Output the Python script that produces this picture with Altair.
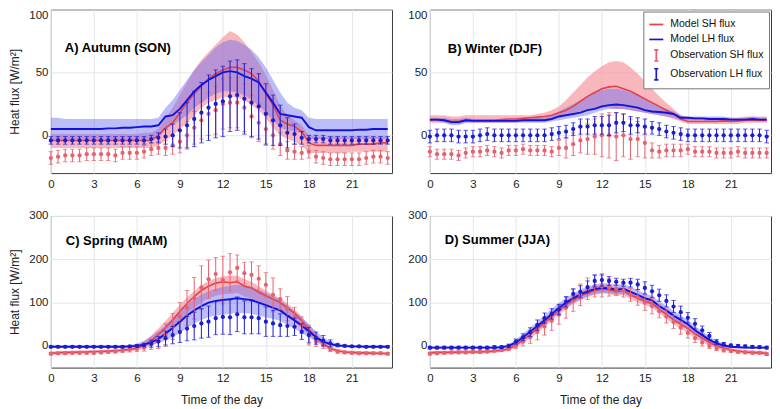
import altair as alt
import pandas as pd

FONT = "Liberation Sans"
RED = "#e3404d"
BLUE = "#1212dc"
OBS_RED = "#e8606e"
OBS_BLUE = "#1c1cd2"
PINK = "#f59aa4"
LAV = "#6a6af0"
GRID = "#e3e6ea"

TIME = [0, 0.5, 1, 1.5, 2, 2.5, 3, 3.5, 4, 4.5, 5, 5.5, 6, 6.5, 7, 7.5,
        8, 8.5, 9, 9.5, 10, 10.5, 11, 11.5, 12, 12.5, 13, 13.5, 14, 14.5, 15, 15.5,
        16, 16.5, 17, 17.5, 18, 18.5, 19, 19.5, 20, 20.5, 21, 21.5, 22, 22.5, 23, 23.5]

# ---------------- A) Autumn (SON)
A_SH = [-4,-4,-4,-4,-4,-4,-4,-4, -4,-4,-4,-4, -4,-4,-4,0, 6,10,18,26, 33,39,45,49, 52,54,54,52, 49,43,33,24, 12,9,7,3, -6,-8,-8,-8, -8,-8,-8,-7, -7,-7,-6,-6]
A_SH_HI = [1,1,1,1,1,1,1,1, 1,1,1,1, 1,2,2,5, 14,22,32,42, 52,60,66,72, 78,83,80,74, 66,58,48,36, 24,16,12,8, 0,-1,-1,-1, -1,-1,-1,-1, -1,-1,-1,-1]
A_SH_LO = [-10,-10,-10,-10,-10,-10,-10,-10, -10,-10,-10,-10, -10,-10,-10,-8, -4,0,5,10, 16,22,26,28, 30,31,30,28, 24,20,14,6, 0,-3,-5,-8, -14,-14,-14,-14, -14,-14,-13,-13, -13,-13,-13,-13]
A_LH = [5,5,5,5,5,5,5,5, 5.5,5.5,6,6, 6.5,7,7,8, 15,16,21,28, 35,40,44,47, 50,51,50,47, 45,42,34,26, 17,16,15,14, 6.5,4,4,4, 4,4,4,4.5, 4.5,5,5,5]
A_LH_HI = [14,14,13,13,13,13,13,13, 13,13,13,13, 13,13,13,14, 22,28,36,44, 52,58,64,70, 74,76,75,72, 68,62,54,44, 34,26,22,20, 14,13,13,13, 13,13,13,13, 13,13,13,13]
A_LH_LO = [-3,-3,-3,-3,-3,-3,-3,-3, -3,-3,-3,-3, -3,-3,-3,-2, 5,8,12,16, 22,26,30,33, 35,35,34,32, 28,24,18,12, 6,4,3,2, -3,-3,-3,-3, -3,-3,-3,-3, -3,-3,-3,-3]
A_OSH = [-18,-17,-16,-16,-16,-15,-15,-15, -15,-16,-14,-14, -14,-13,-11,-10, -10,-8,-5,0, 6,12,17,20, 25,26,26,22, 15,10,5,0, -7,-12,-13,-14, -13,-17,-18,-19, -19,-19,-19,-19, -18,-17,-17,-18]
A_OSH_ERR = [5,5,5,5,5,5,5,5, 5,5,5,5, 5,5,5,5, 6,7,9,11, 13,15,17,19, 20,20,20,19, 17,15,13,11, 9,7,6,5, 5,5,5,5, 5,5,5,5, 5,5,5,5]
A_OLH = [-4,-4,-4,-4,-4,-4,-4,-4, -4,-4,-4,-4, -4,-4,-3,-2, -1,0,4,8, 13,18,22,25, 27,31,32,29, 26,23,17,12, 8,2,1,-2, -3,-3,-3,-4, -4,-4,-4,-4, -4,-4,-4,-4]
A_OLH_ERR = [3,3,3,3,3,3,3,3, 3,3,3,3, 3,3,3,4, 6,9,14,18, 22,24,26,27, 28,28,28,28, 27,26,24,20, 16,12,8,5, 3,3,3,3, 3,3,3,3, 3,3,3,3]

# ---------------- B) Winter (DJF)
B_SH = [12,12.5,12,11,11,12,12,12, 12,12,12.5,13, 13,13.5,14,14.5, 15,16,18,20, 23,27,31,34, 37,38.5,39,37, 35,32,29,26, 23,20,17,13, 11,11,11,11, 11,11.5,11,11.5, 12,12,12,12]
B_SH_HI = [16,16,16,15,15,16,16,16, 16,16,16,16, 16,16,16,17, 18,20,23,28, 34,40,46,51, 55,58,59,58, 54,49,43,37, 31,26,21,16, 14,14,14,14, 14,14,14,14, 15,15,15,15]
B_SH_LO = [10,10,10,9,9,10,10,10, 10,10,10,10, 10,11,11,11, 12,13,15,16, 18,19,20,21, 22,22,21,21, 20,19,18,17, 16,15,13,11, 9,9,9,9, 9,9,9,9, 10,10,10,10]
B_LH = [12.5,12.5,12,10.5,10.5,12,11.5,11.5, 11.5,11.5,11.5,11.5, 11.5,12,12,12, 12,13,15,16, 17,18,20,21, 23,24,24.5,24, 23,22,20,19, 18.5,18,17,14, 14,13.5,13.5,13, 13,13,12.5,12.5, 12.5,13,12.5,12.5]
B_LH_HI = [14,14,14,13,13,14,13,13, 13,13,13,13, 13,14,14,14, 14,16,19,22, 25,28,31,34, 36,37,37,36, 34,32,29,26, 23,21,19,16, 15,15,15,15, 15,15,14,14, 14,15,14,14]
B_LH_LO = [11,11,10,8,8,10,10,10, 10,10,10,10, 10,10,10,10, 10,11,12,13, 14,15,16,18, 20,21,21,21, 20,19,18,17, 16,15,14,12, 12,12,12,11, 11,11,11,11, 11,11,11,11]
B_OSH = [-13,-15,-15,-15,-16,-14,-13,-13, -12,-13,-14,-12, -12,-11,-12,-12, -12,-13,-10,-10, -7,-4,-3,-1, 0,0,-1,0, -3,-3,-6,-12, -13,-12,-12,-12, -11,-13,-13,-13, -14,-14,-14,-13, -14,-14,-14,-14]
B_OSH_ERR = [4,4,4,4,4,4,4,4, 4,4,4,4, 4,4,4,4, 4,4,6,8, 9,10,12,14, 17,18,19,17, 16,14,12,6, 5,5,5,5, 4,4,4,4, 4,4,4,4, 4,4,4,4]
B_OLH = [-1,0,0,0,-1,-1,-1,0, 1,0,0,0, 0,0,0,0, 0,1,2,3, 5,7,7,8, 8,8,10,10, 8,8,7,6, 5,3,2,1, 0,0,0,0, 0,0,0,0, 0,0,0,-1]
B_OLH_ERR = [5,5,5,5,5,5,5,5, 5,5,5,5, 5,5,5,5, 5,5,5,5, 5,6,6,7, 7,8,8,7, 7,6,6,5, 5,5,5,5, 5,5,5,5, 5,5,5,5, 5,5,5,5]

# ---------------- C) Spring (MAM)
C_SH = [-17,-16,-15,-15,-14,-14,-13,-13, -12,-11,-10,-8, -6,2,12,26, 42,60,80,98, 114,128,138,145, 148,146,148,138, 134,124,116,108, 100,88,75,58, 38,20,5,-6, -11,-14,-15,-16, -16,-17,-17,-18]
C_SH_HI = [-13,-12,-11,-11,-10,-10,-9,-9, -8,-7,-6,-4, 0,10,24,40, 58,76,95,112, 127,140,150,156, 161,162,162,154, 148,138,128,118, 110,98,84,68, 48,28,12,0, -7,-10,-11,-12, -12,-13,-13,-14]
C_SH_LO = [-21,-20,-19,-19,-18,-18,-17,-17, -16,-15,-14,-12, -10,-6,0,10, 24,40,58,74, 88,100,110,116, 120,120,122,114, 110,102,94,86, 78,68,56,42, 24,10,-2,-10, -15,-18,-19,-20, -20,-21,-21,-22]
C_LH = [-2,-2,-2,-2,-2,-2,-2,-2, -2,-2,-2,-1, 0,3,8,16, 28,42,56,70, 82,92,100,104, 106,108,110,108, 106,100,94,88, 82,70,59,47, 34,20,10,4, 1,0,-1,-1, -2,-2,-2,-2]
C_LH_HI = [1,1,1,1,1,1,1,1, 1,1,1,2, 5,12,22,34, 48,64,80,95, 108,118,126,132, 136,139,141,139, 136,130,122,115, 106,94,80,66, 50,34,20,10, 4,2,1,1, 1,1,1,1]
C_LH_LO = [-4,-4,-4,-4,-4,-4,-4,-4, -4,-4,-4,-3, -3,-1,2,6, 12,20,30,42, 52,60,66,70, 72,74,76,76, 74,70,66,62, 58,48,40,30, 20,10,3,0, -2,-3,-4,-4, -4,-4,-4,-4]
C_OSH = [-18,-17,-17,-16,-16,-16,-16,-15, -14,-13,-11,-9, -7,-4,4,12, 25,45,68,88, 110,135,154,166, 152,170,180,168, 164,155,141,118, 108,86,67,48, 25,10,2,-8, -13,-15,-16,-17, -17,-17,-17,-18]
C_OSH_ERR = [3,3,3,3,3,3,3,3, 3,3,4,5, 6,8,12,18, 26,30,32,40, 48,50,44,38, 55,43,30,25, 30,30,28,39, 24,28,22,19, 23,11,8,5, 4,3,3,3, 3,3,3,3]
C_OLH = [-2,-2,-2,-2,-2,-2,-2,-2, -2,-2,-2,-1, 0,2,5,10, 18,25,32,40, 46,52,56,64, 67,66,73,66, 66,64,56,52, 48,46,44,33, 25,18,12,6, 2,0,-1,-1, -2,-2,-2,-2]
C_OLH_ERR = [2,2,2,2,2,2,2,2, 2,2,2,2, 3,4,8,12, 16,20,24,28, 32,34,36,38, 40,40,40,38, 38,36,34,30, 26,24,20,18, 18,14,12,8, 4,2,2,2, 2,2,2,2]

# ---------------- D) Summer (JJA)
D_SH = [-16,-15,-15,-15,-14,-14,-14,-14, -13,-12,-10,-7, 2,14,26,40, 54,68,82,95, 106,115,122,128, 131,130,125,128, 118,110,104,98, 85,72,60,50, 40,28,18,8, 0,-5,-9,-12, -14,-15,-16,-17]
D_SH_HI = [-12,-11,-11,-11,-10,-10,-10,-10, -9,-8,-6,-2, 8,22,35,50, 64,78,92,105, 116,125,132,138, 141,140,135,138, 128,120,114,108, 95,82,70,60, 50,38,27,16, 6,0,-4,-7, -9,-10,-11,-12]
D_SH_LO = [-20,-19,-19,-19,-18,-18,-18,-18, -17,-16,-14,-12, -4,6,17,30, 44,58,72,85, 96,105,112,118, 121,120,115,118, 108,100,94,88, 75,62,50,40, 30,18,9,0, -6,-10,-14,-16, -18,-19,-20,-21]
D_LH = [-4,-4,-4,-4,-4,-4,-4,-4, -4,-4,-3,0, 8,20,33,46, 59,74,88,100, 110,119,126,131, 134,133,130,132, 125,118,110,105, 92,82,70,60, 50,36,25,14, 6,1,-2,-3, -4,-4,-4,-4]
D_LH_HI = [-2,-2,-2,-2,-2,-2,-2,-2, -2,-2,-1,3, 14,28,42,56, 70,85,99,111, 121,130,137,142, 145,144,141,143, 136,129,121,116, 103,93,81,71, 60,46,34,22, 12,5,1,-1, -2,-2,-2,-2]
D_LH_LO = [-6,-6,-6,-6,-6,-6,-6,-6, -6,-6,-5,-3, 2,12,24,36, 48,63,77,89, 99,108,115,120, 123,122,119,121, 114,107,99,94, 81,71,59,49, 40,26,16,6, 0,-3,-5,-5, -6,-6,-6,-6]
D_OSH = [-18,-17,-16,-15,-15,-15,-14,-14, -13,-11,-9,-6, 0,10,20,32, 45,58,72,88, 105,118,132,138, 138,135,132,128, 118,112,100,92, 80,68,55,42, 30,18,8,0, -6,-10,-12,-14, -15,-16,-16,-19]
D_OSH_ERR = [3,3,3,3,3,3,3,3, 3,3,4,5, 6,10,14,18, 20,22,22,24, 25,25,25,25, 25,20,15,15, 15,18,18,18, 15,15,15,15, 12,10,8,6, 5,4,3,3, 3,3,3,3]
D_OLH = [-4,-4,-4,-4,-4,-4,-4,-4, -4,-3,-3,0, 10,20,32,48, 64,74,84,102, 120,125,136,150, 152,150,148,146, 146,142,134,126, 117,104,91,78, 65,51,36,23, 9,4,1,0, -1,-2,-3,-4]
D_OLH_ERR = [3,3,3,3,3,3,3,3, 3,3,3,4, 6,8,10,12, 12,12,12,12, 12,14,14,14, 14,10,8,8, 10,12,14,14, 14,14,14,14, 12,12,10,8, 6,4,3,3, 3,3,3,3]

LEGEND_LABELS = ["Model SH flux", "Model LH flux", "Observation SH flux", "Observation LH flux"]
ERRBAR_PATH = "M0,-0.8L0,0.8M-0.3,-0.8L0.3,-0.8M-0.3,0.8L0.3,0.8"

W = 342
H_TOP = 164
H_BOT = 152


def panel(title, d, ydom, yticks, height, ytitle, xtitle, flush, toff, tdx, legend=False):
    df = pd.DataFrame({
        "t": TIME, "sh": d[0], "sh_hi": d[1], "sh_lo": d[2],
        "lh": d[3], "lh_hi": d[4], "lh_lo": d[5],
        "osh": d[6], "osh_err": d[7], "olh": d[8], "olh_err": d[9],
    })
    xaxis = alt.Axis(values=list(range(0, 22, 3)), grid=True, gridColor=GRID, domain=False,
                     ticks=False, labelPadding=5, labelFlush=False, labelFont=FONT,
                     labelFontSize=11.5, labelColor="#222", titleFont=FONT, titleFontSize=12,
                     titleFontWeight="normal", titleColor="#222", titlePadding=11)
    yaxis = alt.Axis(values=yticks, grid=True, gridColor=GRID, domain=False, ticks=False,
                     labelPadding=3, labelFlush=flush, labelFont=FONT, labelFontSize=11.5,
                     labelColor="#222", titleFont=FONT, titleFontSize=12, titleFontWeight="normal",
                     titleColor="#222", titlePadding=7)
    xs = alt.Scale(domain=[0, 23.8], nice=False, zero=False)
    ys = alt.Scale(domain=ydom, nice=False, zero=False)

    def X():
        return alt.X("t:Q", scale=xs, axis=xaxis, title=xtitle)

    def Y(f):
        return alt.Y(f, type="quantitative", scale=ys, axis=yaxis, title=ytitle)

    base = alt.Chart(df)
    sh_band = base.mark_area(color=PINK, opacity=0.72).encode(x=X(), y=Y("sh_lo"), y2="sh_hi:Q")
    lh_band = base.mark_area(color=LAV, opacity=0.45).encode(x=X(), y=Y("lh_lo"), y2="lh_hi:Q")
    sh_line = base.mark_line(color=RED, strokeWidth=1.6).encode(x=X(), y=Y("sh"))
    lh_line = base.mark_line(color=BLUE, strokeWidth=1.9).encode(x=X(), y=Y("lh"))

    def obs(field, err, color):
        b = base.transform_calculate(lo=f"datum.{field} - datum.{err}",
                                     hi=f"datum.{field} + datum.{err}")
        rule = b.mark_rule(color=color, strokeWidth=1).encode(x=X(), y=Y("lo"), y2="hi:Q")
        cap1 = b.mark_tick(color=color, orient="horizontal", size=4.5, thickness=1).encode(x=X(), y=Y("lo"))
        cap2 = b.mark_tick(color=color, orient="horizontal", size=4.5, thickness=1).encode(x=X(), y=Y("hi"))
        pts = base.mark_circle(color=color, size=18, opacity=1).encode(x=X(), y=Y(field))
        return [rule, cap1, cap2, pts]

    layers = [sh_band, lh_band, sh_line, lh_line] + obs("osh", "osh_err", OBS_RED) + obs("olh", "olh_err", OBS_BLUE)

    if legend:
        leg = alt.Legend(title=None, orient="top-right", offset=2, fillColor="white",
                         strokeColor="#777", padding=5, labelFont=FONT, labelFontSize=10.5,
                         labelColor="#111", symbolSize=196, symbolStrokeWidth=1.7,
                         rowPadding=1, labelOffset=6, symbolOpacity=1)
        ldf = pd.DataFrame({"series": pd.Series([], dtype=str)})
        lay = alt.Chart(ldf).mark_point(filled=False, strokeWidth=1.7).encode(
            color=alt.Color("series:N", scale=alt.Scale(domain=LEGEND_LABELS,
                            range=[RED, BLUE, OBS_RED, OBS_BLUE]), legend=leg),
            shape=alt.Shape("series:N", scale=alt.Scale(domain=LEGEND_LABELS,
                            range=["stroke", "stroke", ERRBAR_PATH, ERRBAR_PATH]), legend=leg),
        )
        layers.append(lay)

    return alt.layer(*layers).properties(
        width=W, height=height,
        title=alt.TitleParams(title, anchor="start", frame="group", orient="top",
                              offset=toff, dx=tdx, baseline="alphabetic",
                              font=FONT, fontSize=13, fontWeight="bold", color="black"),
    )


YT = "Heat flux [W/m²]"
pA = panel("A) Autumn (SON)",
           [A_SH, A_SH_HI, A_SH_LO, A_LH, A_LH_HI, A_LH_LO, A_OSH, A_OSH_ERR, A_OLH, A_OLH_ERR],
           [-30, 100], [0, 50, 100], H_TOP, YT, None, True, -56, 14)
pB = panel("B) Winter (DJF)",
           [B_SH, B_SH_HI, B_SH_LO, B_LH, B_LH_HI, B_LH_LO, B_OSH, B_OSH_ERR, B_OLH, B_OLH_ERR],
           [-30, 100], [0, 50, 100], H_TOP, None, None, True, -57, 18, legend=True)
pC = panel("C) Spring (MAM)",
           [C_SH, C_SH_HI, C_SH_LO, C_LH, C_LH_HI, C_LH_LO, C_OSH, C_OSH_ERR, C_OLH, C_OLH_ERR],
           [-50, 300], [0, 100, 200, 300], H_BOT, YT, "Time of the day", False, -48, 15)
pD = panel("D) Summer (JJA)",
           [D_SH, D_SH_HI, D_SH_LO, D_LH, D_LH_HI, D_LH_LO, D_OSH, D_OSH_ERR, D_OLH, D_OLH_ERR],
           [-50, 300], [0, 100, 200, 300], H_BOT, None, "Time of the day", False, -47, 15)

chart = alt.concat(pA, pB, pC, pD, columns=2, spacing={"row": 43, "column": 38}).properties(
    bounds="flush", padding=0
).resolve_legend(color="independent", shape="independent").configure_view(
    stroke="#3a3a3a", strokeWidth=1)

chart.save("out.html", embed_options={"renderer": "svg", "actions": False})
